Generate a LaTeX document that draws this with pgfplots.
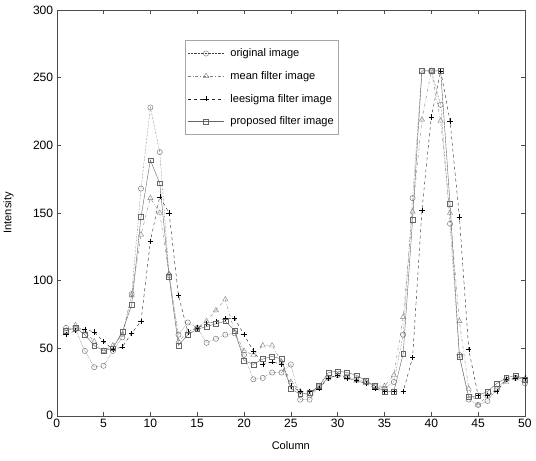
\documentclass[border=0pt]{standalone}
\usepackage{pgfplots}
\pgfplotsset{compat=1.18}
\usepackage{pgfplotstable}
\usepackage{fontspec}
\setmainfont{Liberation Sans}

% columns: x, original, mean, leesigma, proposed
\pgfplotstableread{
x o m l p
1 65 63 60 63
2 64 67 63 65
3 48 62 64 60
4 36 55 62 52
5 37 48 55 48
6 48 52 49 50
7 58 60 51 62
8 90 89 61 82
9 168 134 70 147
10 228 161 129 189
11 195 150 162 172
12 104 105 150 103
13 60 55 89 52
14 69 62 62 60
15 65 65 65 64
16 54 70 68 66
17 57 78 70 68
18 60 86 72 70
19 61 62 72 63
20 45 48 60 41
21 27 45 48 38
22 28 52 38 42
23 32 52 40 44
24 32 40 38 42
25 38 25 22 20
26 12 18 18 16
27 12 15 18 17
28 22 22 20 22
29 28 28 28 32
30 30 30 30 33
31 29 28 28 32
32 27 26 26 30
33 25 24 24 26
34 22 22 20 22
35 20 22 18 18
36 25 30 18 18
37 60 73 18 46
38 161 151 43 145
39 255 219 152 255
40 255 255 221 255
41 230 218 255 255
42 142 150 218 157
43 45 70 147 44
44 12 20 49 14
45 8 8 15 15
46 11 15 15 18
47 20 20 18 24
48 27 25 27 28
49 28 28 28 30
50 24 27 28 27
}\data

\begin{document}
\begin{tikzpicture}
\begin{axis}[
  scale only axis,
  width=465pt, height=403pt,
  xmin=0, xmax=50, ymin=0, ymax=300,
  xtick={0,5,...,50}, ytick={0,50,...,300},
  xlabel={Column}, ylabel={Intensity},
  tick label style={font=\fontsize{12}{14}\selectfont},
  label style={font=\fontsize{11}{13}\selectfont},
  /pgf/number format/assume math mode=true,
  tick align=inside,
  major tick length=4pt,
  axis line style={black!70, thin},
  every tick/.style={black!70},
  xlabel style={at={(axis description cs:0.5,-0.072)}, anchor=center},
  ylabel style={at={(axis description cs:-0.103,0.5)}, anchor=center},
  legend style={at={(0.275,0.925)}, anchor=north west, draw=black!35,
    font=\fontsize{11}{13}\selectfont, fill=white, row sep=9pt,
    inner xsep=2pt, inner ysep=6pt},
  legend cell align=left,
  legend image code/.code={\draw[mark repeat=2, mark phase=2, #1]
    plot coordinates {(0pt,0pt) (18pt,0pt) (36pt,0pt)};
    \path (40pt,0pt);},
]
\addplot[black!75, densely dotted, mark=o, mark size=2.6pt,
  mark options={solid, black!60}] table[x=x, y=o] {\data};
\addlegendentry{original image}
\addplot[black!50, dash dot, mark=triangle, mark size=3pt,
  mark options={solid, black!50}] table[x=x, y=m] {\data};
\addlegendentry{mean filter image}
\addplot[black!85, dashed, mark=+, mark size=2.6pt,
  mark options={solid, black}] table[x=x, y=l] {\data};
\addlegendentry{leesigma filter image}
\addplot[black!60, mark=square, mark size=2.4pt,
  mark options={solid, black!60}] table[x=x, y=p] {\data};
\addlegendentry{proposed filter image}
\end{axis}
\path ([xshift=11pt,yshift=10pt]current axis.north east);
\path ([yshift=-44pt]current axis.south west);
\end{tikzpicture}
\end{document}
